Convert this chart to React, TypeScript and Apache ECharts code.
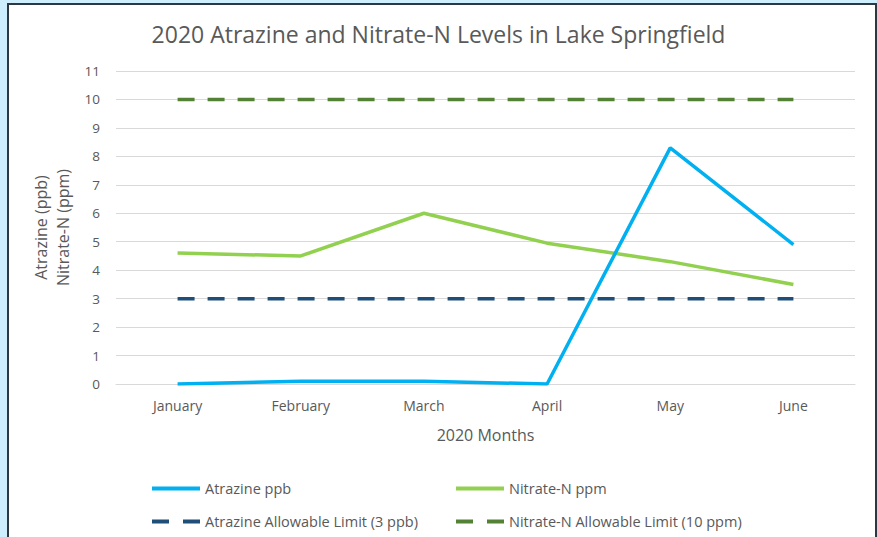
import React, { useEffect, useRef } from "react";
import * as echarts from "echarts";

const months = ["January", "February", "March", "April", "May", "June"];
const atrazine = [0, 0.1, 0.1, 0, 8.3, 4.9];
const nitrate = [4.6, 4.5, 6.0, 4.95, 4.3, 3.5];
const atrazineLimit = [3, 3, 3, 3, 3, 3];
const nitrateLimit = [10, 10, 10, 10, 10, 10];

const FONT = "'Open Sans', sans-serif";
const GREY = "#595959";
const SOLID_ICON = "path://M0,0L48,0L48,4L0,4Z";
const DASH_ICON = "path://M0,0L17,0L17,4L0,4ZM31,0L48,0L48,4L31,4Z";

function legendFor(name: string, icon: string, left: number, top: number) {
  return {
    data: [name],
    left,
    top,
    icon,
    itemWidth: 48,
    itemHeight: 4,
    textStyle: { fontFamily: FONT, fontSize: 14.5, color: GREY },
  };
}

export default function App() {
  const ref = useRef<HTMLDivElement>(null);
  useEffect(() => {
    if (!ref.current) return;
    const chart = echarts.init(ref.current, null, { renderer: "svg" });
    chart.setOption({
      animation: false,
      textStyle: { fontFamily: FONT },
      title: {
        text: "2020 Atrazine and Nitrate-N Levels in Lake Springfield",
        left: "center",
        top: 17,
        textStyle: { fontFamily: FONT, fontSize: 23, fontWeight: "normal", color: GREY },
      },
      grid: { left: 116, right: 22, top: 71, bottom: 153 },
      legend: [
        legendFor("Atrazine ppb", SOLID_ICON, 147, 476),
        legendFor("Atrazine Allowable Limit (3 ppb)", DASH_ICON, 147, 509),
        legendFor("Nitrate-N ppm", SOLID_ICON, 451, 476),
        legendFor("Nitrate-N Allowable Limit (10 ppm)", DASH_ICON, 451, 509),
      ],
      xAxis: {
        type: "category",
        data: months,
        boundaryGap: true,
        name: "2020 Months",
        nameLocation: "middle",
        nameGap: 43,
        nameTextStyle: { fontFamily: FONT, fontSize: 16, color: GREY },
        axisLine: { show: true, lineStyle: { color: "#d9d9d9", width: 1 } },
        axisTick: { show: false },
        axisLabel: { fontFamily: FONT, fontSize: 14, color: GREY, margin: 14 },
      },
      yAxis: {
        type: "value",
        min: 0,
        max: 11,
        interval: 1,
        name: "Atrazine (ppb)\nNitrate-N (ppm)",
        nameLocation: "middle",
        nameRotate: 90,
        nameGap: 38,
        nameTextStyle: { fontFamily: FONT, fontSize: 16, color: GREY, lineHeight: 22 },
        axisLine: { show: false },
        axisTick: { show: false },
        axisLabel: { fontFamily: FONT, fontSize: 13.5, color: GREY, margin: 16 },
        splitLine: { lineStyle: { color: "#d9d9d9", width: 1 } },
      },
      series: [
        {
          name: "Atrazine ppb",
          type: "line",
          data: atrazine,
          symbol: "none",
          color: "#00b0f0",
          lineStyle: { width: 3.5, color: "#00b0f0" },
          z: 4,
        },
        {
          name: "Nitrate-N ppm",
          type: "line",
          data: nitrate,
          symbol: "none",
          color: "#92d050",
          lineStyle: { width: 3.5, color: "#92d050" },
          z: 3,
        },
        {
          name: "Atrazine Allowable Limit (3 ppb)",
          type: "line",
          data: atrazineLimit,
          symbol: "none",
          color: "#1f4e79",
          lineStyle: { width: 3.5, color: "#1f4e79", type: [17, 13] },
          z: 2,
        },
        {
          name: "Nitrate-N Allowable Limit (10 ppm)",
          type: "line",
          data: nitrateLimit,
          symbol: "none",
          color: "#548235",
          lineStyle: { width: 3.5, color: "#548235", type: [17, 13] },
          z: 2,
        },
      ],
    });
    return () => chart.dispose();
  }, []);

  return (
    <div style={{ position: "fixed", left: 0, top: 0, width: 877, height: 537, background: "#cdeffd", overflow: "hidden" }}>
      <div
        style={{
          position: "absolute",
          left: 7,
          top: 3,
          width: 866,
          height: 560,
          background: "#ffffff",
          border: "2px solid #2c3742",
          borderBottom: "none",
        }}
      />
      <div ref={ref} style={{ position: "absolute", left: 0, top: 0, width: 877, height: 537 }} />
    </div>
  );
}
